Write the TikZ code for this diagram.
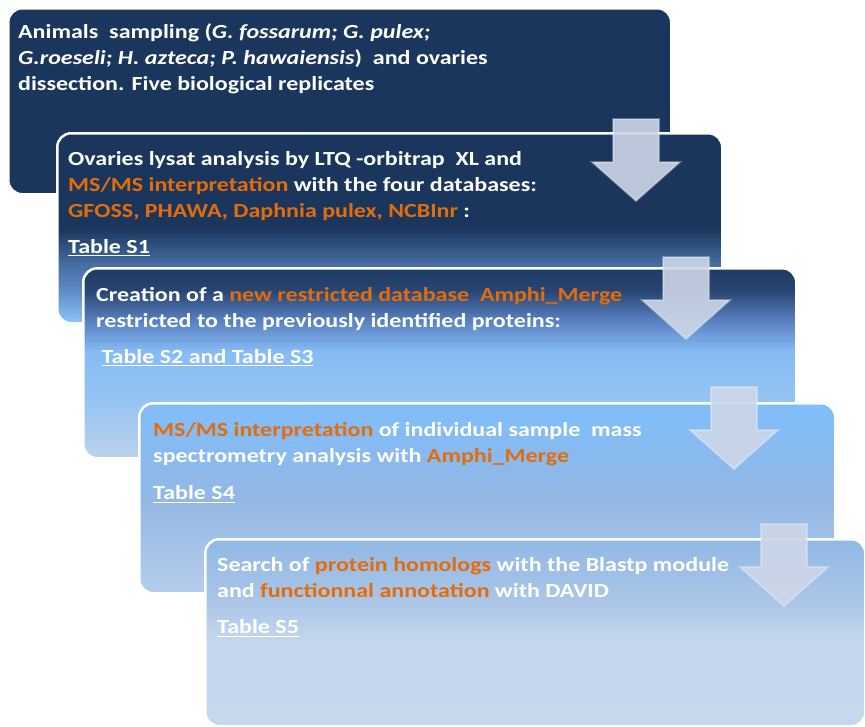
\documentclass[tikz,border=0pt]{standalone}
\usepackage{fontspec}
\setmainfont{Carlito}[FakeStretch=1.2]

\definecolor{navy}{RGB}{27,54,93}
\definecolor{orng}{RGB}{228,108,10}
\definecolor{arrowfill}{RGB}{205,214,232}
% colours of the gradients
\definecolor{twoa}{RGB}{142,196,250}
\definecolor{twob}{RGB}{95,140,200}
\definecolor{twoc}{RGB}{70,110,160}
\definecolor{threea}{RGB}{188,210,234}
\definecolor{threeb}{RGB}{150,196,244}
\definecolor{threec}{RGB}{134,188,244}
\definecolor{threed}{RGB}{90,130,195}
\definecolor{threee}{RGB}{40,70,115}
\definecolor{threef}{RGB}{30,58,100}
\definecolor{foura}{RGB}{180,206,236}
\definecolor{fourb}{RGB}{170,198,234}
\definecolor{fourc}{RGB}{148,184,228}
\definecolor{fourd}{RGB}{136,186,240}
\definecolor{foure}{RGB}{128,190,250}
\definecolor{fivea}{RGB}{198,216,236}
\definecolor{fiveb}{RGB}{196,214,236}
\definecolor{fivec}{RGB}{170,198,232}
\definecolor{fived}{RGB}{144,184,228}

\pgfdeclareverticalshading{shadetwo}{100bp}{color(0bp)=(twoa); color(25bp)=(twoa);
  color(33.4bp)=(twob); color(40.5bp)=(twoc); color(50bp)=(navy); color(100bp)=(navy)}
\pgfdeclareverticalshading{shadethree}{100bp}{color(0bp)=(threea); color(25bp)=(threea);
  color(40bp)=(threeb); color(53bp)=(threec); color(61bp)=(threed); color(69bp)=(threee);
  color(75bp)=(threef); color(100bp)=(threef)}
\pgfdeclareverticalshading{shadefour}{100bp}{color(0bp)=(foura); color(25bp)=(foura);
  color(33.4bp)=(fourb); color(49bp)=(fourc); color(62bp)=(fourd); color(75bp)=(foure);
  color(100bp)=(foure)}
\pgfdeclareverticalshading{shadefive}{100bp}{color(0bp)=(fivea); color(25bp)=(fivea);
  color(48bp)=(fiveb); color(58.5bp)=(fivec); color(75bp)=(fived); color(100bp)=(fived)}

\newcommand\hilite[1]{\textcolor{orng}{#1}}
\newsavebox\tabbox
\newcommand\tablink[1]{\sbox\tabbox{#1}\rlap{\rule[-3pt]{\wd\tabbox}{1.3pt}}\usebox\tabbox}

\tikzset{
  stage/.style={draw=white, line width=2.5pt, rounded corners=14pt, anchor=north west, inner sep=0pt},
  txt/.style={anchor=north west, inner sep=0pt, align=left, text=white,
    font=\fontsize{20}{26}\selectfont\bfseries},
  bigarrow/.style={fill=arrowfill, fill opacity=0.9, draw=white, draw opacity=0.3, line width=2pt}
}

\newcommand\flowarrow[1]{\draw[bigarrow] (#1) +(-23,0) -- +(23,0) -- +(23,43) -- +(44,43)
  -- +(0,82) -- +(-44,43) -- +(-23,43) -- cycle;}

\begin{document}
\begin{tikzpicture}[x=1pt,y=-1pt]
\useasboundingbox (0,0) rectangle (865,726);

%%%%%%%%%%%%%%%%%%%%%%%%%%%%%%%%%%%%%%%%%%
  % Boxes
  \node[stage, fill=navy, minimum width=663pt, minimum height=186pt] (sampling) at (7,7) {};
  \node[txt] (samplingtxt) at (18,20.5) {\strut Animals\ \ sampling (\textit{G. fossarum; G. pulex;}\\
    \textit{G.roeseli; H. azteca; P. hawaiensis})\ \ and ovaries\\
    dissection. Five biological replicates};

  \node[stage, shading=shadetwo, minimum width=665pt, minimum height=190pt] (lysat) at (56,132) {};
  \node[txt] (lysattxt) at (68,147) {\strut Ovaries lysat analysis by LTQ -orbitrap\ \ XL and\\
    \hilite{MS/MS interpretation} with the four databases:\\
    \hilite{GFOSS, PHAWA, Daphnia pulex, NCBInr} :\\[10pt]
    \tablink{Table S1}};

  \node[stage, shading=shadethree, minimum width=713pt, minimum height=190pt] (merge) at (82,267) {};
  \node[txt] (mergetxt) at (96,283) {\strut Creation of a \hilite{new restricted database\ \ Amphi\_Merge}\\
    restricted to the previously identified proteins:\\[10pt]
    \ \tablink{Table S2 and Table S3}};

  \node[stage, shading=shadefour, minimum width=696pt, minimum height=190pt] (interp) at (138,402) {};
  \node[txt] (interptxt) at (153,418.5) {\strut\hilite{MS/MS interpretation} of individual sample\ \ mass\\
    spectrometry analysis with \hilite{Amphi\_Merge}\\[11pt]
    \tablink{Table S4}};

  \node[stage, shading=shadefive, minimum width=660pt, minimum height=187pt] (homolog) at (204,538) {};
  \node[txt] (homologtxt) at (217,553.5) {\strut Search of \hilite{protein homologs} with the Blastp module\\
    and \hilite{functionnal annotation} with DAVID\\[10pt]
    \tablink{Table S5}};

%%%%%%%%%%%%%%%%%%%%%%%%%%%%%%%%%%%%%%%%%%
  % Arrows between the steps
  \coordinate (arr1) at (636,119);
  \coordinate (arr2) at (686,257);
  \coordinate (arr3) at (734,387);
  \coordinate (arr4) at (784,524);
  \flowarrow{arr1}
  \flowarrow{arr2}
  \flowarrow{arr3}
  \flowarrow{arr4}

\end{tikzpicture}
\end{document}
